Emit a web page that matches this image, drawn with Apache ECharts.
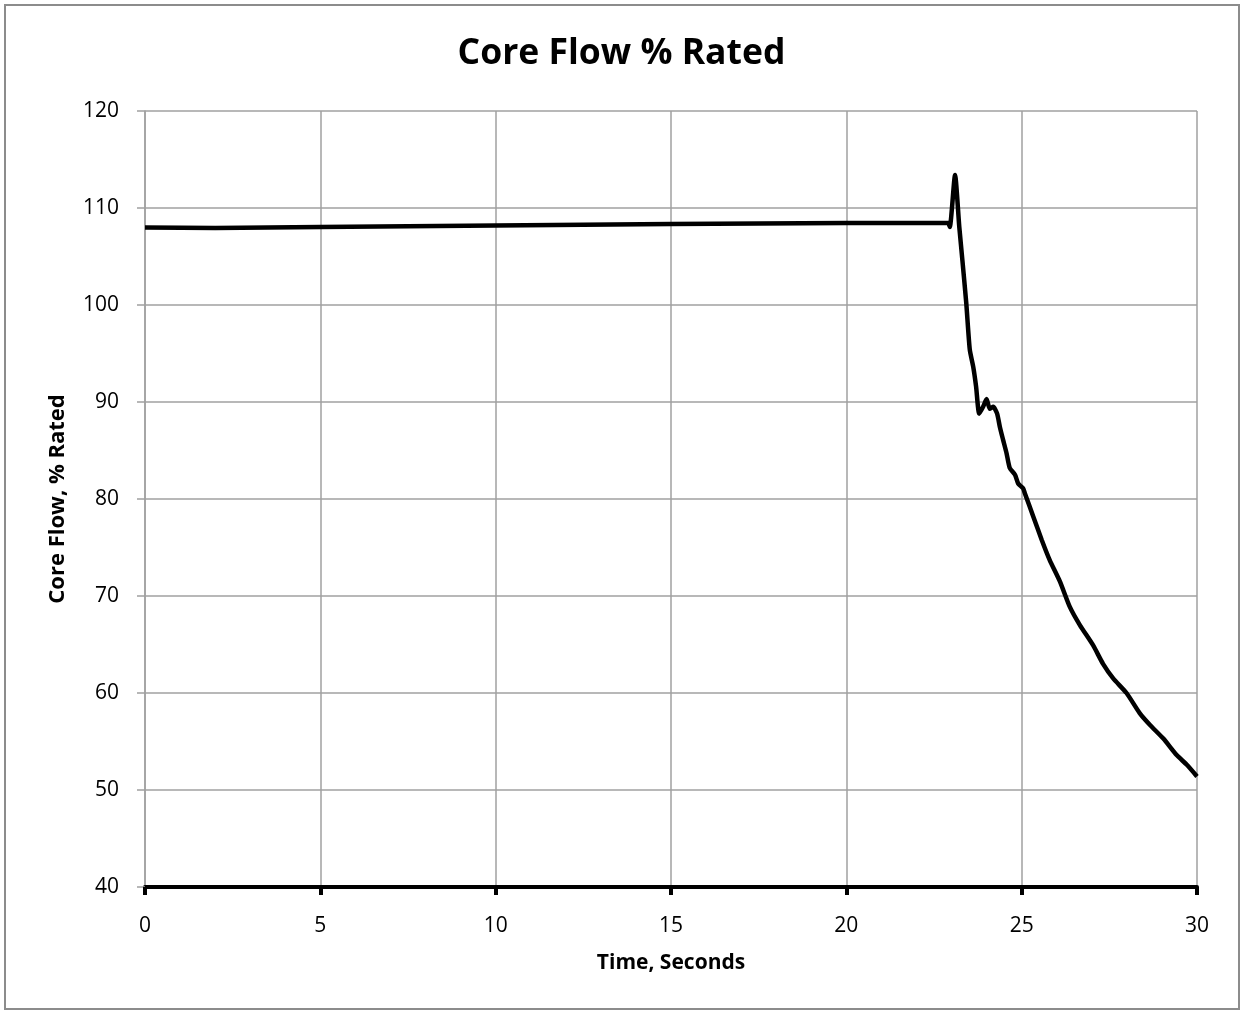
<!DOCTYPE html>
<html><head><meta charset="utf-8">
<script src="https://cdn.jsdelivr.net/npm/echarts@6/dist/echarts.min.js"></script>
<style>html,body{margin:0;padding:0;background:#fff}#c{width:1243px;height:1010px}</style>
</head><body><div id="c"></div>
<script>
const times = [0, 2, 5, 10, 15, 20, 22.9, 22.95, 23.1, 23.22, 23.31, 23.42, 23.52, 23.62, 23.7, 23.79, 23.9, 24.0, 24.09, 24.19, 24.3, 24.38, 24.47, 24.57, 24.66, 24.81, 24.9, 25.04, 25.09, 25.33, 25.57, 25.8, 26.09, 26.37, 26.66, 27.04, 27.32, 27.61, 27.99, 28.37, 28.66, 29.04, 29.42, 29.71, 30];
const coreFlow = [108.0, 107.95, 108.05, 108.2, 108.35, 108.45, 108.45, 108.05, 113.4, 108.1, 104.6, 100.2, 95.4, 93.6, 91.6, 88.8, 89.5, 90.3, 89.3, 89.5, 88.8, 87.4, 86.1, 84.7, 83.2, 82.5, 81.6, 81.1, 80.6, 78.2, 75.8, 73.7, 71.5, 68.9, 67.0, 64.9, 63.0, 61.5, 60.0, 57.9, 56.7, 55.3, 53.6, 52.6, 51.4];
const xTicks = {min: 0, max: 30, interval: 5};
const yTicks = {min: 40, max: 120, interval: 10};

const font = 'Open Sans, Noto Sans, sans-serif';
const chart = echarts.init(document.getElementById('c'));
chart.setOption({
  animation: false,
  backgroundColor: '#fff',
  title: {text: 'Core Flow % Rated', left: 'center', top: 31,
    textStyle: {fontFamily: font, fontWeight: 'bold', fontSize: 35.5, color: '#000'}},
  graphic: [{type: 'rect', shape: {x: 5, y: 5, width: 1234, height: 1004},
    style: {fill: 'none', stroke: '#8c8c8c', lineWidth: 2}, silent: true}],
  grid: {left: 145, right: 46, top: 111, bottom: 123},
  xAxis: {type: 'value', min: xTicks.min, max: xTicks.max, interval: xTicks.interval,
    name: 'Time, Seconds', nameLocation: 'middle', nameGap: 66,
    nameTextStyle: {fontFamily: font, fontWeight: 'bold', fontSize: 21, color: '#000'},
    axisLine: {show: true, onZero: false, lineStyle: {color: '#000', width: 4}},
    axisTick: {show: true, length: 8, lineStyle: {color: '#000', width: 4}},
    axisLabel: {fontFamily: font, fontSize: 21, color: '#000', margin: 29},
    splitLine: {show: true, lineStyle: {color: '#a0a0a0', width: 1.5}}},
  yAxis: {type: 'value', min: yTicks.min, max: yTicks.max, interval: yTicks.interval,
    name: 'Core Flow, % Rated', nameLocation: 'middle', nameGap: 76,
    nameTextStyle: {fontFamily: font, fontWeight: 'bold', fontSize: 22, color: '#000'},
    axisLine: {show: true, lineStyle: {color: '#a0a0a0', width: 1.5}},
    axisTick: {show: true, length: 8, lineStyle: {color: '#a0a0a0', width: 1.5}},
    axisLabel: {fontFamily: font, fontSize: 21, color: '#000', margin: 26},
    splitLine: {show: true, lineStyle: {color: '#a0a0a0', width: 1.5}}},
  series: [{type: 'line', data: times.map((t, i) => [t, coreFlow[i]]),
    showSymbol: false, smooth: 0.2, lineStyle: {color: '#000', width: 4.5}, z: 5}]
});
</script></body></html>
